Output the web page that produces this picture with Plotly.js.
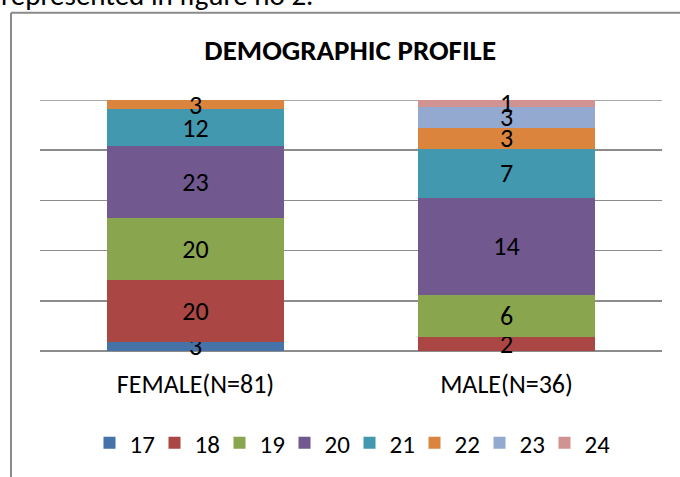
<!DOCTYPE html>
<html>
<head>
<meta charset="utf-8">
<script src="https://cdn.plot.ly/plotly-3.0.1.min.js"></script>
<style>
html,body{margin:0;padding:0;background:#fff;}
#chart{width:680px;height:477px;}
</style>
</head>
<body>
<div id="chart"></div>
<script>
var categories = ['FEMALE(N=81)', 'MALE(N=36)'];
var ageGroups = ['17', '18', '19', '20', '21', '22', '23', '24'];
var age17 = [3, 0];
var age18 = [20, 2];
var age19 = [20, 6];
var age20 = [23, 14];
var age21 = [12, 7];
var age22 = [3, 3];
var age23 = [0, 3];
var age24 = [0, 1];
var colors = ['#4572A7', '#AA4643', '#89A54E', '#71588F', '#4198AF', '#DB843D', '#93A9CF', '#D19392'];

var FONT = 'Carlito, Calibri, "Liberation Sans", Arial, sans-serif';
var series = [age17, age18, age19, age20, age21, age22, age23, age24];

var traces = series.map(function (vals, i) {
  return {
    type: 'bar',
    name: ageGroups[i],
    x: categories,
    y: vals.map(function (v) { return v === 0 ? null : v; }),
    text: vals.map(function (v) { return v === 0 ? '' : String(v); }),
    textposition: 'inside',
    insidetextanchor: 'middle',
    constraintext: 'none',
    cliponaxis: false,
    textangle: 0,
    textfont: {family: FONT, size: 26, color: '#000'},
    marker: {color: colors[i], line: {width: 0}},
    hoverinfo: 'name+text'
  };
});

var layout = {
  width: 680,
  height: 477,
  barmode: 'stack',
  barnorm: 'percent',
  bargap: 0.43,
  paper_bgcolor: '#fff',
  plot_bgcolor: '#fff',
  margin: {l: 40, r: 18, t: 100, b: 125},
  font: {family: FONT, size: 26, color: '#000'},
  title: {
    text: '<b>DEMOGRAPHIC PROFILE</b>',
    font: {family: FONT, size: 29, color: '#000'},
    x: 0.515, xanchor: 'center',
    y: 1 - 50 / 477, yanchor: 'middle'
  },
  xaxis: {
    showgrid: false,
    showline: false,
    ticks: '',
    ticklabelstandoff: 15,
    tickfont: {family: FONT, size: 26, color: '#000'},
    fixedrange: true
  },
  yaxis: {
    range: [0, 100],
    dtick: 20,
    showgrid: true,
    gridcolor: '#8c8c8c',
    gridwidth: 1.5,
    showticklabels: false,
    zeroline: true,
    zerolinecolor: '#8c8c8c',
    zerolinewidth: 1.5,
    ticks: '',
    fixedrange: true
  },
  showlegend: true,
  legend: {
    orientation: 'h',
    traceorder: 'normal',
    x: (89.5 - 40) / 622, xanchor: 'left',
    y: -(443 - 352) / 252, yanchor: 'middle',
    font: {family: FONT, size: 25, color: '#000'},
    itemwidth: 30,
    entrywidth: 20,
    entrywidthmode: 'pixels',
    itemclick: false,
    itemdoubleclick: false
  },
  shapes: [
    {type: 'line', xref: 'paper', yref: 'y', x0: 0, x1: 1, y0: 100, y1: 100, layer: 'below', line: {color: '#8c8c8c', width: 1.5}},
    {type: 'line', xref: 'paper', yref: 'paper', x0: -29 / 622, x1: -29 / 622, y0: (477 - 125 - 12.5) / 252, y1: -200 / 252, line: {color: '#8a8a8a', width: 2}},
    {type: 'line', xref: 'paper', yref: 'paper', x0: -29 / 622, x1: 700 / 622, y0: (477 - 125 - 12.5) / 252, y1: (477 - 125 - 12.5) / 252, line: {color: '#8a8a8a', width: 2}}
  ],
  annotations: [
    {
      text: 'represented in figure no 2.',
      xref: 'paper', yref: 'paper',
      x: -41 / 622, xanchor: 'left',
      y: (352 - 15) / 252, yanchor: 'bottom',
      showarrow: false,
      font: {family: FONT, size: 29, color: '#000'}
    }
  ]
};

Plotly.newPlot('chart', traces, layout, {displayModeBar: false, staticPlot: true});
</script>
</body>
</html>
